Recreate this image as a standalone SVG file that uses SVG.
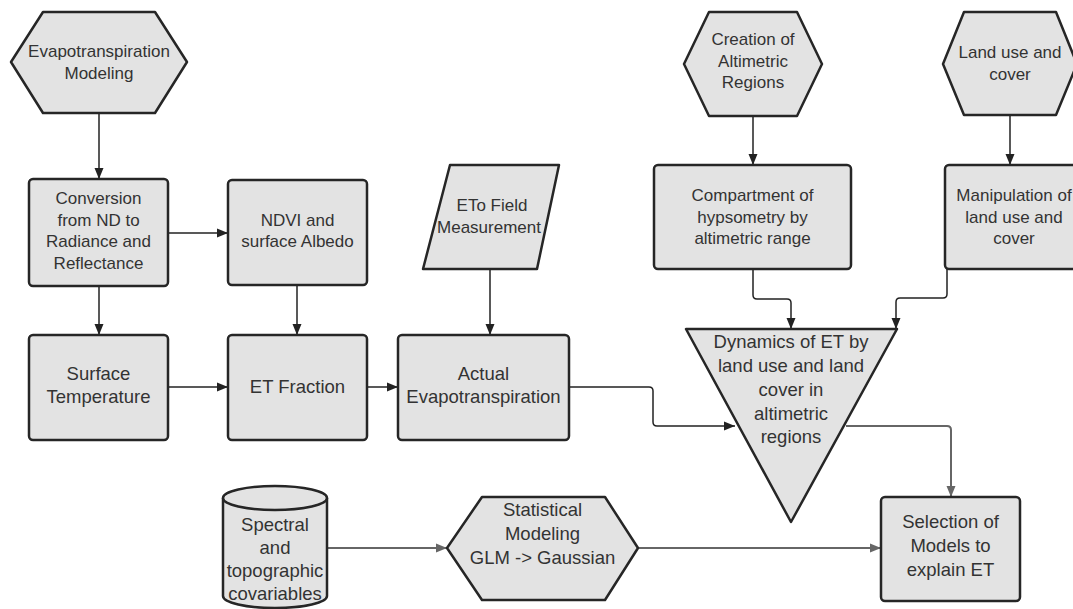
<svg xmlns="http://www.w3.org/2000/svg" width="1073" height="609" viewBox="0 0 1073 609">
  <defs>
    <marker id="ah" markerUnits="userSpaceOnUse" markerWidth="12" markerHeight="10" refX="11" refY="5" orient="auto">
      <path d="M0,0.5 L11,5 L0,9.5 z" fill="#222"/>
    </marker>
    <marker id="ahg" markerUnits="userSpaceOnUse" markerWidth="12" markerHeight="10" refX="11" refY="5" orient="auto">
      <path d="M0,0.5 L11,5 L0,9.5 z" fill="#666"/>
    </marker>
    <style>
      .shape { fill: #e3e3e3; stroke: #262626; stroke-width: 2.5; stroke-linejoin: round; }
      .t { font-family: "Liberation Sans", Arial, sans-serif; font-size: 17px; fill: #333; text-anchor: middle; }
      .tl { font-family: "Liberation Sans", Arial, sans-serif; font-size: 18.5px; fill: #333; text-anchor: middle; }
      .c { fill: none; stroke: #222; stroke-width: 1.5; stroke-linejoin: round; marker-end: url(#ah); }
      .cg { fill: none; stroke: #666; stroke-width: 2; stroke-linejoin: round; marker-end: url(#ahg); }
    </style>
  </defs>
  <rect width="1073" height="609" fill="#ffffff"/>

  <g id="connectors">
    <path class="c" d="M99,113 L99,179"/>
    <path class="c" d="M168,233 L228,233"/>
    <path class="c" d="M99,286 L99,335"/>
    <path class="c" d="M297,285 L297,335"/>
    <path class="c" d="M168,387 L228,387"/>
    <path class="c" d="M367,387 L398,387"/>
    <path class="c" d="M490,269 L490,335"/>
    <path class="c" d="M753,116 L753,165"/>
    <path class="c" d="M1010,115 L1010,165"/>
    <path class="c" d="M753,269 L753,295 Q753,299 757,299 L787,299 Q791,299 791,303 L791,329"/>
    <path class="c" d="M947,269 L947,294 Q947,298 943,298 L900,298 Q896,298 896,302 L896,329"/>
    <path class="c" d="M569,387 L649,387 Q653,387 653,391 L653,422 Q653,426 657,426 L735,426"/>
    <path class="cg" d="M846,426 L947,426 Q951,426 951,430 L951,497"/>
    <path class="cg" d="M327,548 L447,548"/>
    <path class="cg" d="M638,548 L881,548"/>
  </g>

  <g id="evapotranspiration-modeling">
    <path class="shape" d="M11,62 L43,12 L155,12 L187,62 L155,113 L43,113 Z"/>
    <text class="t" x="99" y="57">Evapotranspiration</text>
    <text class="t" x="99" y="79">Modeling</text>
  </g>

  <g id="conversion">
    <rect class="shape" x="29" y="179" width="139" height="107" rx="4"/>
    <text class="t" x="98.5" y="204">Conversion</text>
    <text class="t" x="98.5" y="226">from ND to</text>
    <text class="t" x="98.5" y="247">Radiance and</text>
    <text class="t" x="98.5" y="269">Reflectance</text>
  </g>

  <g id="ndvi-albedo">
    <rect class="shape" x="228" y="180" width="139" height="105" rx="4"/>
    <text class="t" x="297.5" y="226">NDVI and</text>
    <text class="t" x="297.5" y="247">surface Albedo</text>
  </g>

  <g id="eto-field">
    <path class="shape" d="M450,165 L559,165 L537,269 L423,269 Z"/>
    <text class="t" x="492" y="211">ETo Field</text>
    <text class="t" x="489" y="233">Measurement</text>
  </g>

  <g id="creation-altimetric">
    <path class="shape" d="M684,64 L709,12 L797,12 L822,64 L797,116 L709,116 Z"/>
    <text class="t" x="753" y="45">Creation of</text>
    <text class="t" x="753" y="67">Altimetric</text>
    <text class="t" x="753" y="88">Regions</text>
  </g>

  <g id="land-use-cover">
    <path class="shape" d="M943,64 L964,12 L1056,12 L1077,64 L1056,115 L964,115 Z"/>
    <text class="t" x="1010" y="58">Land use and</text>
    <text class="t" x="1010" y="80">cover</text>
  </g>

  <g id="compartment">
    <rect class="shape" x="654" y="165" width="197" height="104" rx="4"/>
    <text class="t" x="752.5" y="201">Compartment of</text>
    <text class="t" x="752.5" y="223">hypsometry by</text>
    <text class="t" x="752.5" y="244">altimetric range</text>
  </g>

  <g id="manipulation">
    <rect class="shape" x="945" y="165" width="139" height="104" rx="4"/>
    <text class="t" x="1014" y="201">Manipulation of</text>
    <text class="t" x="1014" y="223">land use and</text>
    <text class="t" x="1014" y="244">cover</text>
  </g>

  <g id="surface-temperature">
    <rect class="shape" x="29" y="335" width="139" height="105" rx="4"/>
    <text class="tl" x="98.5" y="380">Surface</text>
    <text class="tl" x="98.5" y="403">Temperature</text>
  </g>

  <g id="et-fraction">
    <rect class="shape" x="228" y="335" width="139" height="105" rx="4"/>
    <text class="tl" x="297.5" y="393">ET Fraction</text>
  </g>

  <g id="actual-et">
    <rect class="shape" x="398" y="335" width="171" height="105" rx="4"/>
    <text class="tl" x="483.5" y="380">Actual</text>
    <text class="tl" x="483.5" y="403">Evapotranspiration</text>
  </g>

  <g id="dynamics-et">
    <path class="shape" d="M686,329 L897,329 L791,522 Z"/>
    <text class="tl" x="791" y="348">Dynamics of ET by</text>
    <text class="tl" x="791" y="372">land use and land</text>
    <text class="tl" x="791" y="396">cover in</text>
    <text class="tl" x="791" y="420">altimetric</text>
    <text class="tl" x="791" y="443">regions</text>
  </g>

  <g id="covariables">
    <path class="shape" d="M223,498 L223,596 A52,12 0 0 0 327,596 L327,498"/>
    <ellipse class="shape" cx="275" cy="498" rx="52" ry="12"/>
    <text class="tl" x="275" y="531">Spectral</text>
    <text class="tl" x="275" y="554">and</text>
    <text class="tl" x="275" y="577">topographic</text>
    <text class="tl" x="275" y="600">covariables</text>
  </g>

  <g id="statistical-modeling">
    <path class="shape" d="M447,548 L482,497 L605,497 L638,548 L605,600 L482,600 Z"/>
    <text class="tl" x="542.5" y="516">Statistical</text>
    <text class="tl" x="542.5" y="540">Modeling</text>
    <text class="tl" x="542.5" y="564">GLM -&gt; Gaussian</text>
  </g>

  <g id="selection-models">
    <rect class="shape" x="881" y="497" width="139" height="104" rx="4"/>
    <text class="tl" x="950.5" y="528">Selection of</text>
    <text class="tl" x="950.5" y="552">Models to</text>
    <text class="tl" x="950.5" y="576">explain ET</text>
  </g>
</svg>
